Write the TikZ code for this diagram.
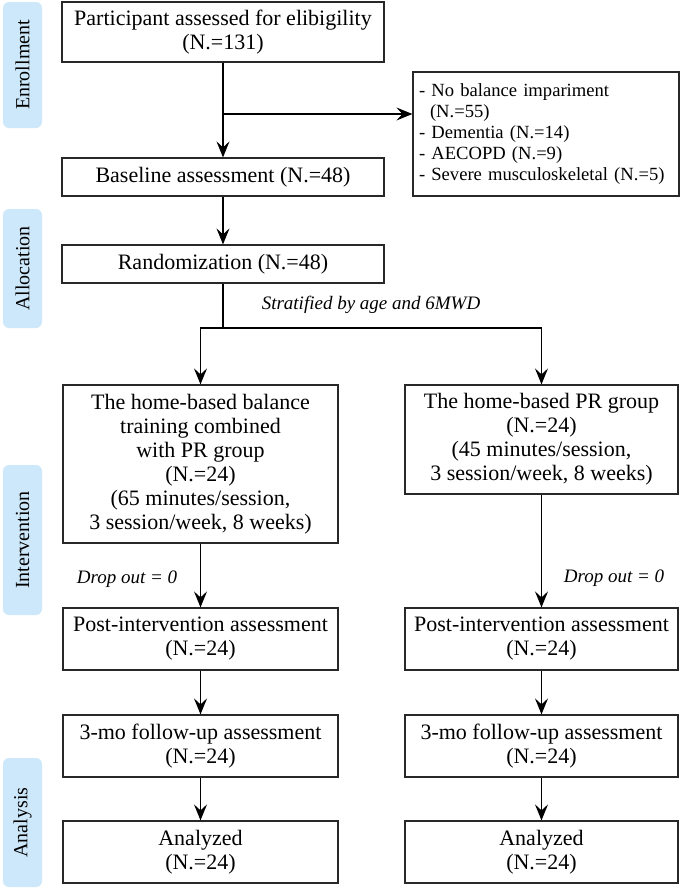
\documentclass[tikz,border=0pt]{standalone}
\usepackage{fontspec}
\setmainfont{Liberation Serif}
\usetikzlibrary{arrows.meta}
\definecolor{tabblue}{RGB}{205,232,250}
\definecolor{boxline}{RGB}{40,40,40}
\begin{document}
\begin{tikzpicture}[x=1pt,y=-1pt,
 box/.style={draw=boxline, line width=1.2pt, rectangle, align=center, font=\fontsize{22}{24}\selectfont, inner sep=0pt},
 tab/.style={fill=tabblue, rounded corners=6pt, minimum height=39pt, inner sep=0pt, font=\fontsize{20}{22}\selectfont, rotate=90},
 arr/.style={line width=1.2pt, -{Stealth[length=16pt,width=13pt,inset=6pt]}},
 ln/.style={line width=1.2pt},
 lbl/.style={font=\fontsize{19}{22}\selectfont\itshape, inner sep=0pt}]
\useasboundingbox (0,0) rectangle (680,889);
% side tabs
\node[tab, minimum width=126pt] (t1) at (22.5,65) {Enrollment};
\node[tab, minimum width=119pt] (t2) at (22.5,268.5) {Allocation};
\node[tab, minimum width=150pt] (t3) at (22.5,540) {Intervention};
\node[tab, minimum width=129pt] (t4) at (22.5,822.5) {Analysis};
% top column
\node[box, minimum width=322pt, minimum height=60pt] (b1) at (223,32) {Participant assessed for elibigility\\(N.=131)};
\node[box, minimum width=322pt, minimum height=38pt] (b2) at (223,177) {Baseline assessment (N.=48)};
\node[box, minimum width=322pt, minimum height=38pt] (b3) at (223,264) {Randomization (N.=48)};
\node[box, align=left, font=\fontsize{18.6}{21}\selectfont, minimum width=266pt, minimum height=124pt, text width=254pt] (ex) at (546,134) {- No balance impariment\\\hspace*{11pt}(N.=55)\\- Dementia (N.=14)\\- AECOPD (N.=9)\\- Severe musculoskeletal (N.=5)};
% groups
\node[box, minimum width=275pt, minimum height=158pt] (L1) at (200.5,464) {The home-based balance\\training combined\\with PR group\\(N.=24)\\(65 minutes/session,\\3 session/week, 8 weeks)};
\node[box, minimum width=273pt, minimum height=109pt] (R1) at (541.5,439.5) {The home-based PR group\\(N.=24)\\(45 minutes/session,\\3 session/week, 8 weeks)};
\node[box, minimum width=275pt, minimum height=62pt] (L2) at (200.5,639) {Post-intervention assessment\\(N.=24)};
\node[box, minimum width=273pt, minimum height=62pt] (R2) at (541.5,639) {Post-intervention assessment\\(N.=24)};
\node[box, minimum width=275pt, minimum height=62pt] (L3) at (200.5,746) {3-mo follow-up assessment\\(N.=24)};
\node[box, minimum width=273pt, minimum height=62pt] (R3) at (541.5,746) {3-mo follow-up assessment\\(N.=24)};
\node[box, minimum width=275pt, minimum height=62pt] (L4) at (200.5,852) {Analyzed\\(N.=24)};
\node[box, minimum width=273pt, minimum height=62pt] (R4) at (541.5,852) {Analyzed\\(N.=24)};
% labels
\node[lbl] (s1) at (371,305) {Stratified by age and 6MWD};
\node[lbl] (d1) at (127,579) {Drop out = 0};
\node[lbl] (d2) at (614,578) {Drop out = 0};
% connectors
\coordinate (br) at (223,114);
\coordinate (sp) at (223,328);
\draw[arr] (b1.south) -- (b2.north);
\draw[arr] (br) -- (br -| ex.west);
\draw[arr] (b2.south) -- (b3.north);
\draw[ln] (b3.south) -- (sp);
\draw[arr] (sp) -| (L1.north);
\draw[arr] (sp) -| (R1.north);
\draw[arr] (L1.south) -- (L2.north);
\draw[arr] (R1.south) -- (R2.north);
\draw[arr] (L2.south) -- (L3.north);
\draw[arr] (R2.south) -- (R3.north);
\draw[arr] (L3.south) -- (L4.north);
\draw[arr] (R3.south) -- (R4.north);
\end{tikzpicture}
\end{document}
